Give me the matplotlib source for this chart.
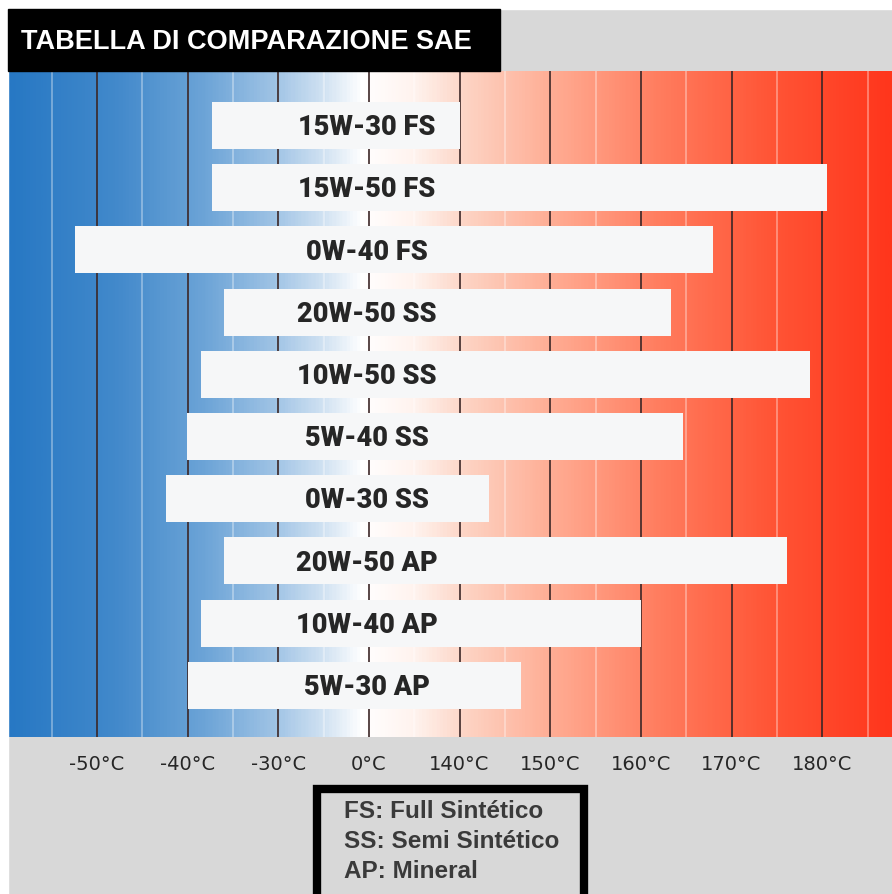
import numpy as np
import matplotlib.pyplot as plt
from matplotlib.colors import LinearSegmentedColormap
from matplotlib.patches import Rectangle

# grades top -> bottom
grades = ["15W-30 FS", "15W-50 FS", "0W-40 FS", "20W-50 SS", "10W-50 SS",
          "5W-40 SS", "0W-30 SS", "20W-50 AP", "10W-40 AP", "5W-30 AP"]
# bar ends on the tick-index scale (0 = -50°C ... 8 = 180°C)
low_pos = [1.27, 1.27, -0.24, 1.40, 1.15, 0.99, 0.76, 1.40, 1.15, 1.00]
high_pos = [4.00, 8.05, 6.80, 6.33, 7.87, 6.46, 4.32, 7.61, 6.00, 4.68]

tick_labels = ["-50°C", "-40°C", "-30°C", "0°C", "140°C",
               "150°C", "160°C", "170°C", "180°C"]
legend_lines = ["FS: Full Sintético", "SS: Semi Sintético", "AP: Mineral"]
title = "TABELLA DI COMPARAZIONE SAE"

W, H = 892, 895
fig = plt.figure(figsize=(W / 100, H / 100), dpi=100, facecolor="#d8d8d8")

# white strips on top and left edge
fig.patches.append(Rectangle((0, 1 - 10 / H), 1, 10 / H, transform=fig.transFigure,
                             color="white", zorder=0))
fig.patches.append(Rectangle((0, 0), 8 / W, 1, transform=fig.transFigure,
                             color="white", zorder=0))

ax = fig.add_axes([8 / W, (H - 738) / H, (W - 8) / W, (738 - 72) / H])
x0, x1 = -0.98, 8.77
y0, y1 = 9.83, -0.876
ax.set_xlim(x0, x1)
ax.set_ylim(y0, y1)

# blue -> white -> red background
cmap = LinearSegmentedColormap.from_list("temp", [
    (0.00, "#2778c4"), (0.12, "#4289cb"), (0.22, "#6ca4d7"),
    (0.30, "#9fc3e5"), (0.36, "#d4e4f3"), (0.40, "#ffffff"),
    (0.46, "#fff3ee"), (0.52, "#fdd3c3"), (0.62, "#ffab92"),
    (0.74, "#ff7c5e"), (0.86, "#ff5637"), (1.00, "#ff361c")])
grad = np.linspace(0, 1, 600).reshape(1, -1)
ax.imshow(grad, cmap=cmap, aspect="auto", extent=[x0, x1, y0, y1], zorder=0)

for i in range(len(tick_labels)):
    ax.axvline(i, color="#3b2626", lw=1.4, alpha=0.85, zorder=1)
for i in range(-1, len(tick_labels)):
    ax.axvline(i + 0.5, color="white", lw=1.2, alpha=0.4, zorder=1)

rows = np.arange(len(grades))
ax.barh(rows, np.array(high_pos) - np.array(low_pos), left=low_pos, height=0.755,
        color="#f6f7f8", zorder=2)
for r, g in zip(rows, grades):
    ax.text(2.98, r + 0.02, g, ha="center", va="center", fontsize=19.5,
            fontweight=900, color="#262626", family=["Roboto", "DejaVu Sans"],
            zorder=3)

ax.set_xticks(range(len(tick_labels)))
ax.set_xticklabels(tick_labels, fontsize=14, color="#262626", family="DejaVu Sans")
ax.tick_params(axis="x", length=0, pad=12)
ax.set_yticks([])
for s in ax.spines.values():
    s.set_visible(False)

# title box
fig.patches.append(Rectangle((8 / W, (H - 72) / H), 492 / W, 62 / H,
                             transform=fig.transFigure, color="black", zorder=1))
fig.text(21 / W, (H - 42) / H, title, color="white", fontsize=19.5,
         fontweight="bold", family="Liberation Sans", va="center", ha="left")

# legend box (runs off the bottom edge)
fig.patches.append(Rectangle((317 / W, -20 / H), 267 / W, (H - 790 + 20) / H,
                             transform=fig.transFigure, fill=False,
                             edgecolor="black", lw=6, zorder=2))
for k, line in enumerate(legend_lines):
    fig.text(344 / W, (H - 812 - 30 * k) / H, line, color="#3a3a3a", fontsize=17.5,
             fontweight="bold", family="Liberation Sans", va="center", ha="left")

fig.savefig("out.png", dpi=100, facecolor=fig.get_facecolor())
